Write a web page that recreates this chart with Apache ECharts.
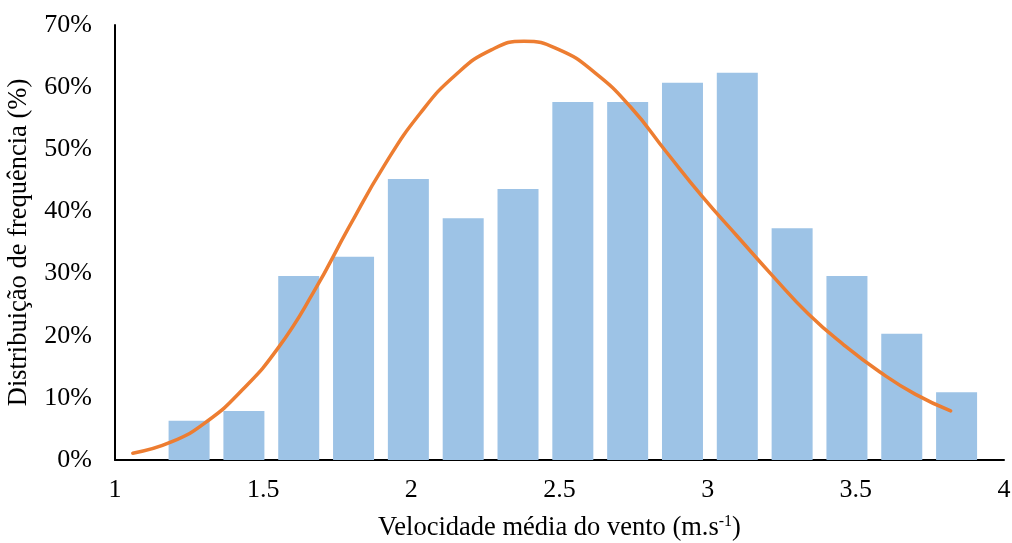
<!DOCTYPE html>
<html>
<head>
<meta charset="utf-8">
<script src="https://cdn.jsdelivr.net/npm/echarts@6/dist/echarts.min.js"></script>
<style>html,body{margin:0;padding:0;background:#fff}#c{width:1012px;height:543px}</style>
</head>
<body>
<div id="c"></div>
<script>
const binCenters = [1.25, 1.435, 1.62, 1.805, 1.99, 2.175, 2.36, 2.545, 2.73, 2.915, 3.10, 3.285, 3.47, 3.655, 3.84];
const freqValues = [6.3, 7.9, 29.6, 32.7, 45.2, 38.9, 43.6, 57.6, 57.6, 60.7, 62.3, 37.3, 29.6, 20.3, 10.9];
const curveX = [1.06, 1.19, 1.31, 1.43, 1.55, 1.67, 1.79, 1.91, 2.03, 2.15, 2.27, 2.38, 2.50, 2.62, 2.74, 2.86, 2.98, 3.10, 3.22, 3.34, 3.46, 3.58, 3.70, 3.82];
const curveY = [1.1, 2.9, 6.2, 11.3, 18.0, 27.0, 37.5, 47.5, 55.8, 62.0, 66.0, 67.4, 66.0, 62.3, 56.8, 49.6, 42.5, 36.0, 29.6, 23.5, 18.5, 14.2, 10.6, 7.9];
const xTicks = {min: 1, max: 4, interval: 0.5};
const yTicks = {min: 0, max: 70, interval: 10};

const font = 'Liberation Serif';
const chart = echarts.init(document.getElementById('c'), null, {renderer: 'canvas'});
chart.setOption({
  animation: false,
  backgroundColor: '#fff',
  grid: {left: 115, right: 8, top: 25, bottom: 83, containLabel: false, outerBoundsMode: 'none'},
  xAxis: {
    type: 'value', min: xTicks.min, max: xTicks.max, interval: xTicks.interval,
    axisLine: {show: true, lineStyle: {color: '#000', width: 2}},
    axisTick: {show: false},
    splitLine: {show: false},
    axisLabel: {fontFamily: font, fontSize: 26, color: '#000', margin: 17},
    name: 'Velocidade média do vento (m.s{sup|-1})',
    nameLocation: 'middle', nameGap: 54,
    nameTextStyle: {fontFamily: font, fontSize: 26.5, color: '#000',
      rich: {sup: {fontFamily: font, fontSize: 16, color: '#000', verticalAlign: 'top', padding: [0, 0, 12, 0]}}}
  },
  yAxis: {
    type: 'value', min: yTicks.min, max: yTicks.max, interval: yTicks.interval,
    axisLine: {show: true, lineStyle: {color: '#000', width: 2}},
    axisTick: {show: false},
    splitLine: {show: false},
    axisLabel: {fontFamily: font, fontSize: 26, color: '#000', margin: 23, formatter: '{value}%'},
    name: 'Distribuição de frequência (%)',
    nameLocation: 'middle', nameGap: 82, nameRotate: 90,
    nameTextStyle: {fontFamily: font, fontSize: 26.5, color: '#000'}
  },
  series: [
    {
      type: 'bar',
      data: binCenters.map((x, i) => [x, freqValues[i]]),
      barWidth: 41,
      itemStyle: {color: '#9DC3E6'}
    },
    {
      type: 'line',
      data: curveX.map((x, i) => [x, curveY[i]]),
      smooth: 0.5,
      showSymbol: false,
      lineStyle: {color: '#ED7D31', width: 3.5, cap: 'round'}
    }
  ]
});
</script>
</body>
</html>
